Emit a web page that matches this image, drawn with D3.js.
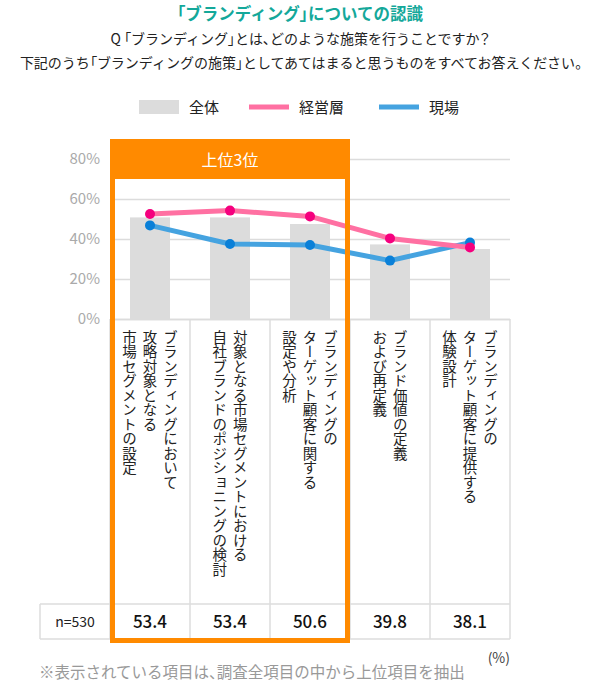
<!DOCTYPE html>
<html>
<head>
<meta charset="utf-8">
<script src="https://cdn.jsdelivr.net/npm/d3@7"></script>
<style>
  body { margin: 0; background: #fff; }
  svg { display: block; font-family: "Noto Sans CJK JP", "Noto Sans", sans-serif; }
  .vlabel { writing-mode: vertical-rl; text-orientation: mixed; }
  .palt { font-feature-settings: "palt"; }
</style>
</head>
<body>
<svg width="600" height="689"></svg>
<script>
// data
const categories = ['c1', 'c2', 'c3', 'c4', 'c5'];
const categoryLines = [
  ['ブランディングにおいて', '攻略対象となる', '市場セグメントの設定'],
  ['対象となる市場セグメントにおける', '自社ブランドのポジショニングの検討'],
  ['ブランディングの', 'ターゲット顧客に関する', '設定や分析'],
  ['ブランド価値の定義', 'および再定義'],
  ['ブランディングの', 'ターゲット顧客に提供する', '体験設計']
];
const totalValues = [50.8, 50.8, 47.5, 37.3, 35.0];   // 全体 (bars)
const execValues = [52.5, 54.2, 51.3, 40.3, 35.8];    // 経営層
const fieldValues = [46.8, 37.5, 37.0, 29.2, 38.2];   // 現場
const tableLabels = ['53.4', '53.4', '50.6', '39.8', '38.1'];
const yTicks = [0, 20, 40, 60, 80];

const svg = d3.select('svg');

const plotLeft = 110, plotRight = 510, plotTop = 159, plotBottom = 319;
const x = d3.scaleBand().domain(categories).range([plotLeft, plotRight]).paddingInner(0.5).paddingOuter(0.25);
const y = d3.scaleLinear().domain([0, 80]).range([plotBottom, plotTop]);
const step = x.step();
const cx = d => x(d) + x.bandwidth() / 2;

// text where only brackets / punctuation are set tight
function jpText(sel, str) {
  str.split(/([「」、。？])/).filter(s => s).forEach(s => {
    sel.append('tspan').attr('class', /[「」、。？]/.test(s) ? 'palt' : null).text(s);
  });
  return sel;
}

// title + question
jpText(svg.append('text').attr('x', 300).attr('y', 19.5).attr('text-anchor', 'middle')
  .attr('font-size', 16.5).attr('font-weight', 700).attr('fill', '#14a89a'),
  '「ブランディング」についての認識');
jpText(svg.append('text').attr('x', 300).attr('y', 44).attr('text-anchor', 'middle')
  .attr('font-size', 14).attr('fill', '#222'),
  'Q 「ブランディング」とは、どのような施策を行うことですか？');
jpText(svg.append('text').attr('x', 301).attr('y', 68).attr('text-anchor', 'middle')
  .attr('font-size', 14).attr('fill', '#222'),
  '下記のうち「ブランディングの施策」としてあてはまると思うものをすべてお答えください。');

// legend
const legend = svg.append('g');
legend.append('rect').attr('x', 139).attr('y', 100).attr('width', 40).attr('height', 14).attr('fill', '#dcdcdc');
legend.append('text').attr('x', 189).attr('y', 113).attr('font-size', 15).attr('fill', '#222').text('全体');
legend.append('line').attr('x1', 249).attr('x2', 289).attr('y1', 107).attr('y2', 107)
  .attr('stroke', '#ff70a2').attr('stroke-width', 5);
legend.append('text').attr('x', 299).attr('y', 113).attr('font-size', 15).attr('fill', '#222').text('経営層');
legend.append('line').attr('x1', 379).attr('x2', 419).attr('y1', 107).attr('y2', 107)
  .attr('stroke', '#45a3e0').attr('stroke-width', 5);
legend.append('text').attr('x', 429).attr('y', 113).attr('font-size', 15).attr('fill', '#222').text('現場');

// y axis with grid
const yAxis = svg.append('g')
  .attr('transform', `translate(${plotLeft},0)`)
  .call(d3.axisLeft(y).tickValues(yTicks).tickSize(-(plotRight - plotLeft)).tickPadding(10).tickFormat(d => d + '%'));
yAxis.select('.domain').remove();
yAxis.selectAll('line').attr('stroke', '#dcdcdc').attr('stroke-width', 1.5);
yAxis.selectAll('text').attr('font-size', 15).attr('fill', '#aaa').attr('font-family', '"Noto Sans CJK JP", sans-serif');

// bars
svg.selectAll('.bar')
  .data(totalValues)
  .enter()
  .append('rect')
  .attr('class', 'bar')
  .attr('x', (d, i) => x(categories[i]))
  .attr('y', d => y(d))
  .attr('width', x.bandwidth())
  .attr('height', d => y(0) - y(d))
  .attr('fill', '#dcdcdc');

// lines
const line = d3.line().x((d, i) => cx(categories[i])).y(d => y(d));
function series(vals, lineColor, dotColor) {
  svg.append('path').datum(vals).attr('d', line)
    .attr('fill', 'none').attr('stroke', lineColor).attr('stroke-width', 5).attr('stroke-linejoin', 'round');
  svg.append('g').selectAll('circle').data(vals).enter().append('circle')
    .attr('cx', (d, i) => cx(categories[i])).attr('cy', d => y(d)).attr('r', 5)
    .attr('fill', dotColor);
}
series(fieldValues, '#45a3e0', '#0a80d8');
series(execValues, '#ff70a2', '#f5007e');

// category label area + table
const labelTop = plotBottom, tableTop = 604, tableBottom = 639;
const grid = svg.append('g').attr('stroke', '#dcdcdc').attr('stroke-width', 1.5);
grid.append('line').attr('x1', plotLeft).attr('x2', plotRight).attr('y1', labelTop + 0.5).attr('y2', labelTop + 0.5);
categories.forEach((c, i) => {
  grid.append('line').attr('x1', x(c) - step / 4 + step).attr('x2', x(c) - step / 4 + step)
    .attr('y1', labelTop).attr('y2', tableBottom);
});
grid.append('line').attr('x1', plotLeft).attr('x2', plotLeft).attr('y1', labelTop).attr('y2', tableBottom);
grid.append('line').attr('x1', 40).attr('x2', plotRight).attr('y1', tableTop).attr('y2', tableTop);
grid.append('line').attr('x1', 40).attr('x2', plotRight).attr('y1', tableBottom).attr('y2', tableBottom);
grid.append('line').attr('x1', 40).attr('x2', 40).attr('y1', tableTop).attr('y2', tableBottom);

categoryLines.forEach((lines, i) => {
  const n = lines.length;
  lines.forEach((t, j) => {
    const lx = cx(categories[i]) + ((n - 1) / 2 - j) * 20.5;
    svg.append('text').attr('class', 'vlabel')
      .attr('x', lx).attr('y', 330)
      .attr('font-size', 14.5).attr('fill', '#222')
      .text(t);
  });
});

svg.append('text').attr('x', 75).attr('y', 627).attr('text-anchor', 'middle')
  .attr('font-size', 14).attr('fill', '#222').text('n=530');
svg.selectAll('.tval').data(tableLabels).enter().append('text')
  .attr('class', 'tval')
  .attr('x', (d, i) => cx(categories[i])).attr('y', 628).attr('text-anchor', 'middle')
  .attr('font-size', 17).attr('font-weight', 500).attr('fill', '#111').text(d => d);

// top-3 highlight box
svg.append('rect').attr('x', 112.5).attr('y', 141.5).attr('width', 235).attr('height', 499)
  .attr('fill', 'none').attr('stroke', '#ff8a00').attr('stroke-width', 5);
svg.append('rect').attr('x', 110).attr('y', 139).attr('width', 240).attr('height', 40).attr('fill', '#ff8a00');
svg.append('text').attr('x', 230).attr('y', 166).attr('text-anchor', 'middle')
  .attr('font-size', 16).attr('fill', '#fff').text('上位3位');

// notes
svg.append('text').attr('x', 510).attr('y', 663).attr('text-anchor', 'end')
  .attr('font-size', 14).attr('fill', '#444').text('(%)');
jpText(svg.append('text').attr('x', 39).attr('y', 678)
  .attr('font-size', 15.5).attr('fill', '#999'),
  '※表示されている項目は、調査全項目の中から上位項目を抽出');
</script>
</body>
</html>
